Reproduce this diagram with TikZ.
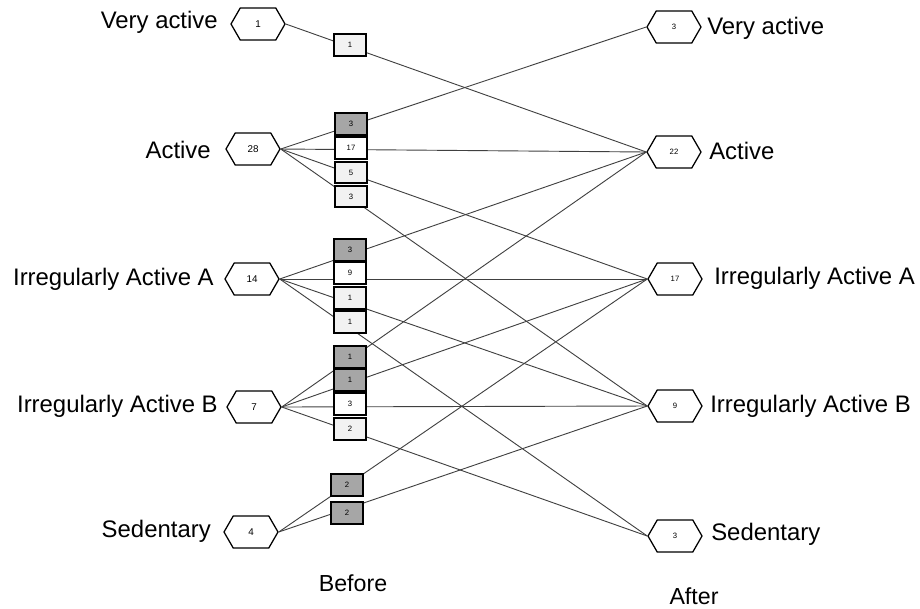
\documentclass[tikz,border=0pt]{standalone}
\usepackage{fontspec}
\setmainfont{Liberation Sans}
\usetikzlibrary{shapes.symbols}
\definecolor{upgray}{HTML}{A6A6A6}
\definecolor{downgray}{HTML}{F2F2F2}
\definecolor{linkgray}{HTML}{404040}

\begin{document}
\begin{tikzpicture}[x=0.025cm,y=-0.025cm,
  level/.style={signal,signal to=east and west,signal pointer angle=120,draw,fill=white,
    line width=0.9pt,minimum width=1.35cm,minimum height=0.8cm,inner sep=0pt},
  before/.style={level,font=\fontsize{7}{8}\selectfont},
  after/.style={level,font=\fontsize{5.5}{6}\selectfont},
  move/.style={draw,line width=1.4pt,minimum width=0.82cm,minimum height=0.54cm,
    inner sep=0pt,font=\fontsize{5.5}{6}\selectfont},
  moveup/.style={move,fill=upgray},
  movesame/.style={move,fill=white},
  movedown/.style={move,fill=downgray},
  lbl/.style={inner sep=0pt,font=\fontsize{17}{20}\selectfont},
  link/.style={linkgray,line width=0.65pt}]
\useasboundingbox (0,0) rectangle (920,608);

% levels before
\node[before] (bVA) at (258,24) {1};
\node[before] (bAct) at (253,149) {28};
\node[before] (bIA) at (252,279) {14};
\node[before] (bIB) at (254,407) {7};
\node[before] (bSed) at (251,532) {4};

% levels after
\node[after] (aVA) at (674,27) {3};
\node[after] (aAct) at (674,152) {22};
\node[after] (aIA) at (675,279) {17};
\node[after] (aIB) at (675,406) {9};
\node[after] (aSed) at (675,536) {3};

\node[lbl,anchor=east] (lbVA) at (218,22) {Very active};
\node[lbl,anchor=east] (lbAct) at (211,150) {Active};
\node[lbl,anchor=east] (lbIA) at (214,279) {Irregularly Active A};
\node[lbl,anchor=east] (lbIB) at (218,406) {Irregularly Active B};
\node[lbl,anchor=east] (lbSed) at (211,531) {Sedentary};

\node[lbl,anchor=west] (laVA) at (707,28) {Very active};
\node[lbl,anchor=west] (laAct) at (709,151) {Active};
\node[lbl,anchor=west] (laIA) at (714,278) {Irregularly Active A};
\node[lbl,anchor=west] (laIB) at (710,406) {Irregularly Active B};
\node[lbl,anchor=west] (laSed) at (711,534) {Sedentary};

\node[lbl,font=\fontsize{16.5}{19}\selectfont] (before) at (353,583) {Before};
\node[lbl,font=\fontsize{16.5}{19}\selectfont] (after) at (694,596) {After};

% transitions
\draw[link] (bVA.east) -- (aAct.west);
\draw[link] (bAct.east) -- (aVA.west);
\draw[link] (bAct.east) -- (aAct.west);
\draw[link] (bAct.east) -- (aIA.west);
\draw[link] (bAct.east) -- (aIB.west);
\draw[link] (bIA.east) -- (aAct.west);
\draw[link] (bIA.east) -- (aIA.west);
\draw[link] (bIA.east) -- (aIB.west);
\draw[link] (bIA.east) -- (aSed.west);
\draw[link] (bIB.east) -- (aAct.west);
\draw[link] (bIB.east) -- (aIA.west);
\draw[link] (bIB.east) -- (aIB.west);
\draw[link] (bIB.east) -- (aSed.west);
\draw[link] (bSed.east) -- (aIA.west);
\draw[link] (bSed.east) -- (aIB.west);

% counts on the transitions
\node[movedown] (vaAct) at (350,45) {1};
\node[moveup] (actVA) at (351,124) {3};
\node[movesame] (actAct) at (351,148) {17};
\node[movedown] (actIA) at (351,172.5) {5};
\node[movedown] (actIB) at (351,196.5) {3};
\node[moveup] (iaAct) at (350,250) {3};
\node[movesame] (iaIA) at (350,273) {9};
\node[movedown] (iaIB) at (350,298) {1};
\node[movedown] (iaSed) at (350,322) {1};
\node[moveup] (ibAct) at (350,357) {1};
\node[moveup] (ibIA) at (350,380) {1};
\node[movesame] (ibIB) at (350,404) {3};
\node[movedown] (ibSed) at (350,429) {2};
\node[moveup] (sedIA) at (347,485) {2};
\node[moveup] (sedIB) at (347,513) {2};
\end{tikzpicture}
\end{document}
